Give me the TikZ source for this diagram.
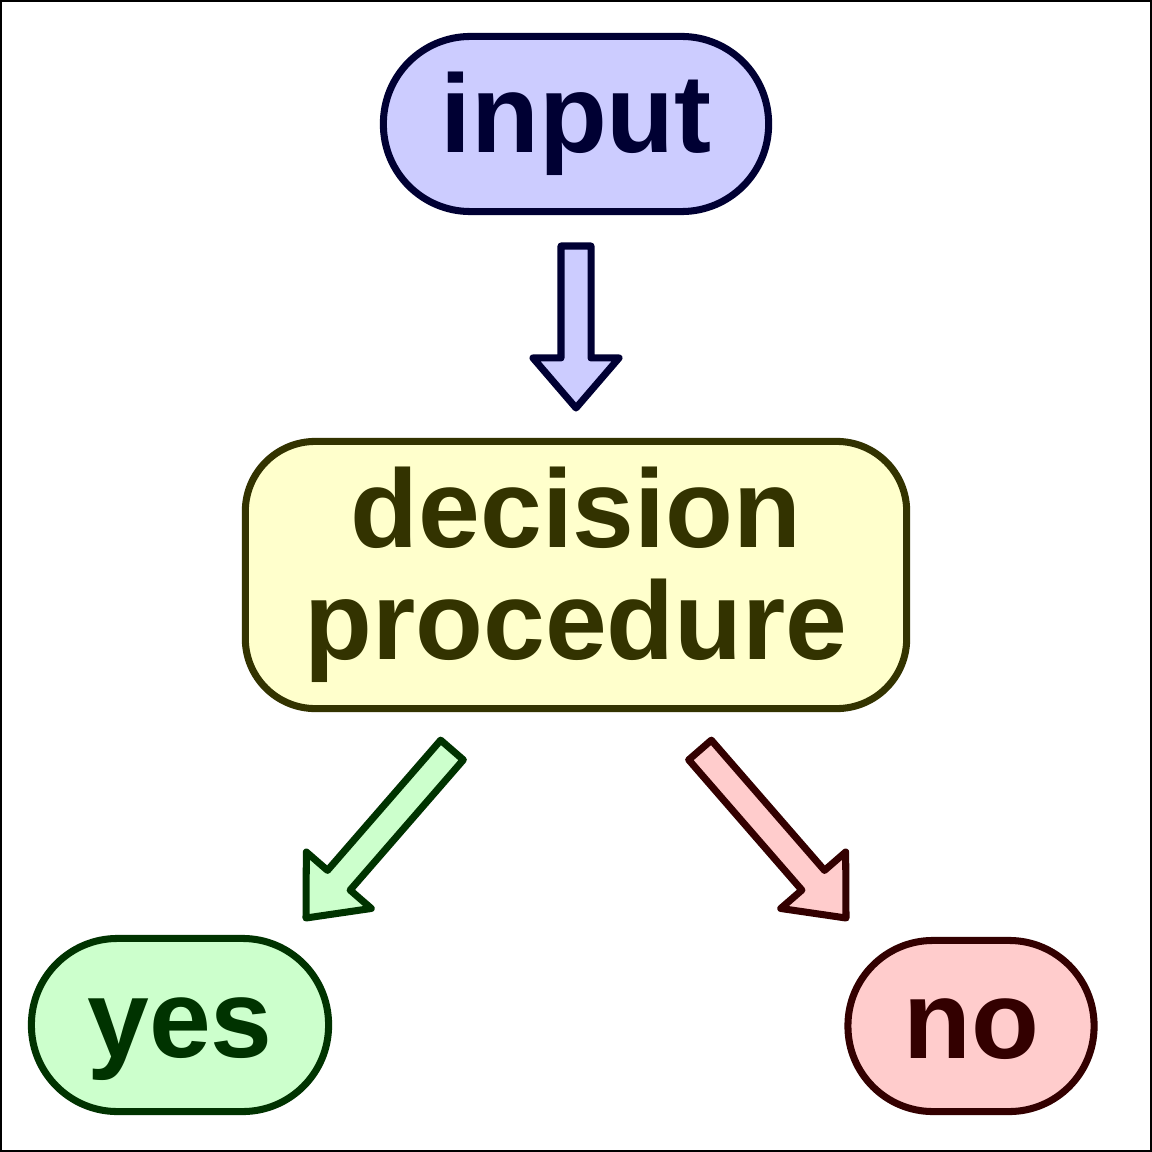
\documentclass[tikz,border=0pt]{standalone}
\usepackage{fontspec}
\setmainfont{Liberation Sans}
\usetikzlibrary{calc}

\definecolor{bluefill}{HTML}{CCCCFF}
\definecolor{blueline}{HTML}{000033}
\definecolor{yellowfill}{HTML}{FFFFCC}
\definecolor{yellowline}{HTML}{333300}
\definecolor{greenfill}{HTML}{CCFFCC}
\definecolor{greenline}{HTML}{003300}
\definecolor{redfill}{HTML}{FFCCCC}
\definecolor{redline}{HTML}{330000}

% block arrow from #2 to #3, drawn with style #1
\newcommand{\blockarrow}[3]{%
  \coordinate (hb) at ($(#3)!0.5cm!(#2)$);
  \draw[#1] ($(#2)!0.15cm!90:(#3)$) -- ($(hb)!0.15cm!90:(#3)$)
    -- ($(hb)!0.43cm!90:(#3)$) -- (#3) -- ($(hb)!0.43cm!-90:(#3)$)
    -- ($(hb)!0.15cm!-90:(#3)$) -- ($(#2)!0.15cm!-90:(#3)$) -- cycle;
}

\begin{document}
\begin{tikzpicture}[
    x=0.01cm, y=-0.01cm,
    box/.style={draw, line width=2pt, align=center, inner sep=0pt,
      font=\fontsize{31.6pt}{31.9pt}\selectfont\bfseries},
    answer/.style={box, text height=0.8cm, text depth=0.16cm},
    bigarrow/.style={line width=2pt, line join=round}
]
\useasboundingbox (0,0) rectangle (1152,1152);
\draw[line width=0.02cm] (1,1) rectangle (1151,1151);

% input
\node[box, fill=bluefill, draw=blueline, text=blueline, rounded corners=0.87cm,
  minimum width=3.85cm, minimum height=1.75cm] (input) at (576,124) {input};

% decision procedure
\node[box, fill=yellowfill, draw=yellowline, text=yellowline, rounded corners=0.7cm,
  minimum width=6.61cm, minimum height=2.67cm] (decision) at (576,575) {decision\\procedure};

% yes
\node[answer, fill=greenfill, draw=greenline, text=greenline, rounded corners=0.86cm,
  minimum width=2.97cm, minimum height=1.73cm] (yes) at (180,1025) {yes};

% no
\node[answer, fill=redfill, draw=redline, text=redline, rounded corners=0.85cm,
  minimum width=2.46cm, minimum height=1.71cm] (no) at (971,1026) {no};

% arrows
\coordinate (in-tail) at (576,246);
\coordinate (in-tip) at (576,408);
\coordinate (yes-tail) at (452,750);
\coordinate (yes-tip) at (306,918);
\coordinate (no-tail) at (700,750);
\coordinate (no-tip) at (846,918);

\blockarrow{bigarrow, fill=bluefill, draw=blueline}{in-tail}{in-tip}
\blockarrow{bigarrow, fill=greenfill, draw=greenline}{yes-tail}{yes-tip}
\blockarrow{bigarrow, fill=redfill, draw=redline}{no-tail}{no-tip}

\end{tikzpicture}
\end{document}
